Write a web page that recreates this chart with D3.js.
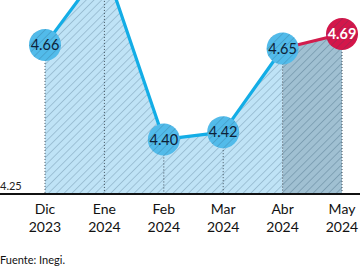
<!DOCTYPE html>
<html><head><meta charset="utf-8">
<script src="https://cdn.jsdelivr.net/npm/d3@7"></script>
<style>body{margin:0;background:#fff}svg{display:block}</style>
</head><body><svg id="c" width="360" height="269"></svg>
<script>
const months = ["Dic","Ene","Feb","Mar","Abr","May"];
const years = ["2023","2024","2024","2024","2024","2024"];
const values = [4.66, 4.88, 4.40, 4.42, 4.65, 4.69];
const baseTick = [4.25];

const svg = d3.select("#c");
const x = d3.scalePoint().domain(months).range([45, 342]);
const y = d3.scaleLinear().domain([4.25, 4.69]).range([194, 34]);
const data = months.map((m,i)=>({m, yr:years[i], v:values[i]}));

const defs = svg.append("defs");
function hatch(id, bg, line, w){
  const p = defs.append("pattern").attr("id",id).attr("patternUnits","userSpaceOnUse")
    .attr("width",5.5).attr("height",5.5).attr("patternTransform","rotate(45)");
  if(bg) p.append("rect").attr("width",5.5).attr("height",5.5).attr("fill",bg);
  p.append("line").attr("x1",0).attr("y1",0).attr("x2",0).attr("y2",5.5)
    .attr("stroke",line).attr("stroke-width",w);
}
hatch("hl","#bfe3f6","#7b9fb6",1);
hatch("hd","#a0c0d2","#5f8399",1);
hatch("ho",null,"rgba(30,70,100,0.4)",1);

const area = d3.area().x(d=>x(d.m)).y0(y(4.25)).y1(d=>y(d.v));
svg.append("path").datum(data.slice(0,5)).attr("d",area).attr("fill","url(#hl)");
svg.append("path").datum(data.slice(4,6)).attr("d",area).attr("fill","url(#hd)");

svg.selectAll(".vl").data(data).join("line")
  .attr("x1",d=>x(d.m)).attr("x2",d=>x(d.m))
  .attr("y1",d=>y(d.v)).attr("y2",y(4.25))
  .attr("stroke","#3e4e5a").attr("stroke-width",1).attr("stroke-dasharray","1,2");

const line = d3.line().x(d=>x(d.m)).y(d=>y(d.v));
svg.append("path").datum(data.slice(0,5)).attr("d",line).attr("fill","none")
  .attr("stroke","#13ade6").attr("stroke-width",3.2).attr("stroke-linejoin","round");
svg.append("path").datum(data.slice(4,6)).attr("d",line).attr("fill","none")
  .attr("stroke","#d21c4d").attr("stroke-width",3.2);

svg.append("line").attr("x1",0).attr("x2",360).attr("y1",y(4.25)).attr("y2",y(4.25))
  .attr("stroke","#111").attr("stroke-width",2);
svg.append("text").attr("x",0).attr("y",y(4.25)-4).text(d3.format(".2f")(baseTick[0]))
  .attr("font-family","Lato").attr("font-size",11).attr("fill","#222");

const vis = data.filter(d=>y(d.v) > 0);
const g = svg.selectAll(".pt").data(vis).join("g")
  .attr("transform",d=>`translate(${x(d.m)},${y(d.v)})`);
g.append("circle").attr("r",16).attr("fill",d=>d.m==="May"?"#d4164a":"#52bbea");
g.append("circle").attr("r",16).attr("fill","url(#ho)");
g.append("text").attr("text-anchor","middle").attr("dy","0.36em")
  .attr("font-family","Lato").attr("font-size",14.5)
  .attr("font-weight",d=>d.m==="May"?"bold":"normal")
  .attr("fill",d=>d.m==="May"?"#fff":"#0d2238")
  .text(d=>d3.format(".2f")(d.v));

const xl = svg.selectAll(".xl").data(data).join("text")
  .attr("x",d=>x(d.m)).attr("text-anchor","middle")
  .attr("font-family","Lato").attr("font-size",14).attr("fill","#111");
xl.append("tspan").attr("x",d=>x(d.m)).attr("y",214).text(d=>d.m);
xl.append("tspan").attr("x",d=>x(d.m)).attr("y",232).text(d=>d.yr);

svg.append("text").attr("x",0).attr("y",264).text("Fuente: Inegi.")
  .attr("font-family","Lato").attr("font-size",11).attr("fill","#111");
</script></body></html>
